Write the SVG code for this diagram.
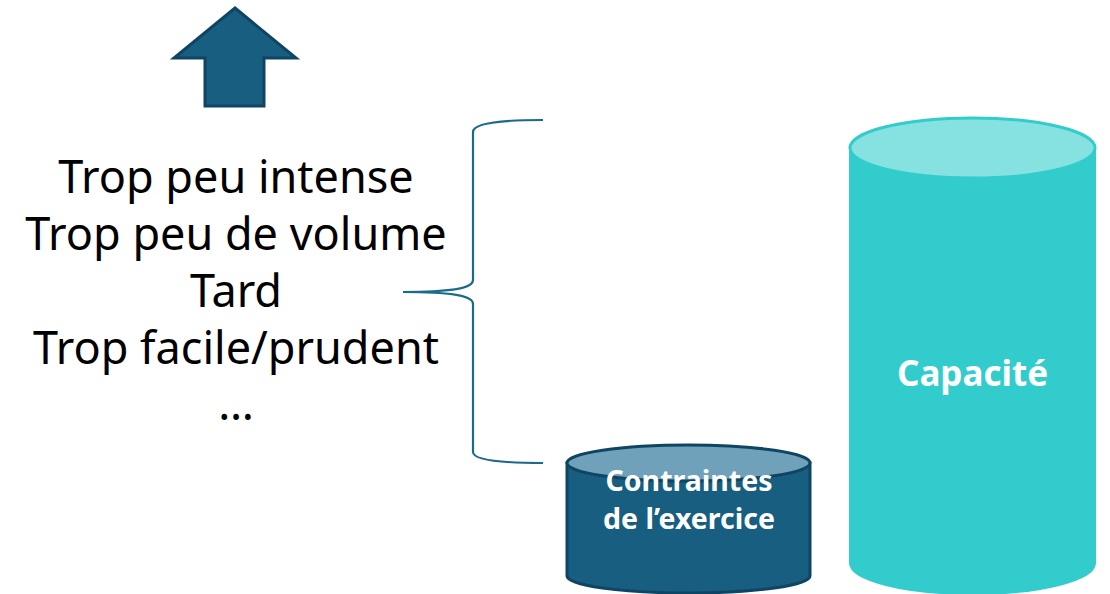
<svg xmlns="http://www.w3.org/2000/svg" width="1110" height="594" viewBox="0 0 1110 594">
<style>
.lbl{font-family:"Noto Sans","Open Sans","Liberation Sans",sans-serif;font-size:45px;fill:#000;text-anchor:middle}
.w{font-family:"Noto Sans","Open Sans","Liberation Sans",sans-serif;font-weight:bold;fill:#fff;text-anchor:middle}
</style>
<rect width="1110" height="594" fill="#fff"/>
<g id="arrow">
<polygon points="235,8 296,58 264,58 264,106 205,106 205,58 174,58" fill="#175e80" stroke="#0f4563" stroke-width="3" stroke-linejoin="miter"/>
</g>
<g id="list">
<text class="lbl" x="236" y="193">Trop peu intense</text>
<text class="lbl" x="236" y="250">Trop peu de volume</text>
<text class="lbl" x="236" y="307">Tard</text>
<text class="lbl" x="236" y="364">Trop facile/prudent</text>
<text class="lbl" x="236" y="420">…</text>
</g>
<g id="connectors">
<path d="M543,120 C495,120 473,124 473,132 L473,280 C473,288 455,292 403,292 M403,292 C455,292 473,296 473,304 L473,452 C473,459 495,463 543,463" fill="none" stroke="#1a6a8a" stroke-width="2.2"/>
</g>
<g id="contraintes">
<path d="M567,463 L567,576 A121.5,17 0 0 0 810,576 L810,463 Z" fill="#175e80" stroke="#0f4563" stroke-width="3"/>
<ellipse cx="688.5" cy="463" rx="121.5" ry="18" fill="#6fa2ba" stroke="#0f4563" stroke-width="3"/>
<text class="w" x="689" y="491" font-size="28.5">Contraintes</text>
<text class="w" x="689" y="529" font-size="28.5">de l’exercice</text>
</g>
<g id="capacite">
<path d="M850,148 L850,563 A122.5,31 0 0 0 1095,563 L1095,148 Z" fill="#33cccc" stroke="#33cccc" stroke-width="2"/>
<ellipse cx="972.5" cy="148" rx="122.5" ry="30" fill="#86e1e1" stroke="#33cccc" stroke-width="3"/>
<text class="w" x="972.5" y="386" font-size="35">Capacité</text>
</g>
</svg>
